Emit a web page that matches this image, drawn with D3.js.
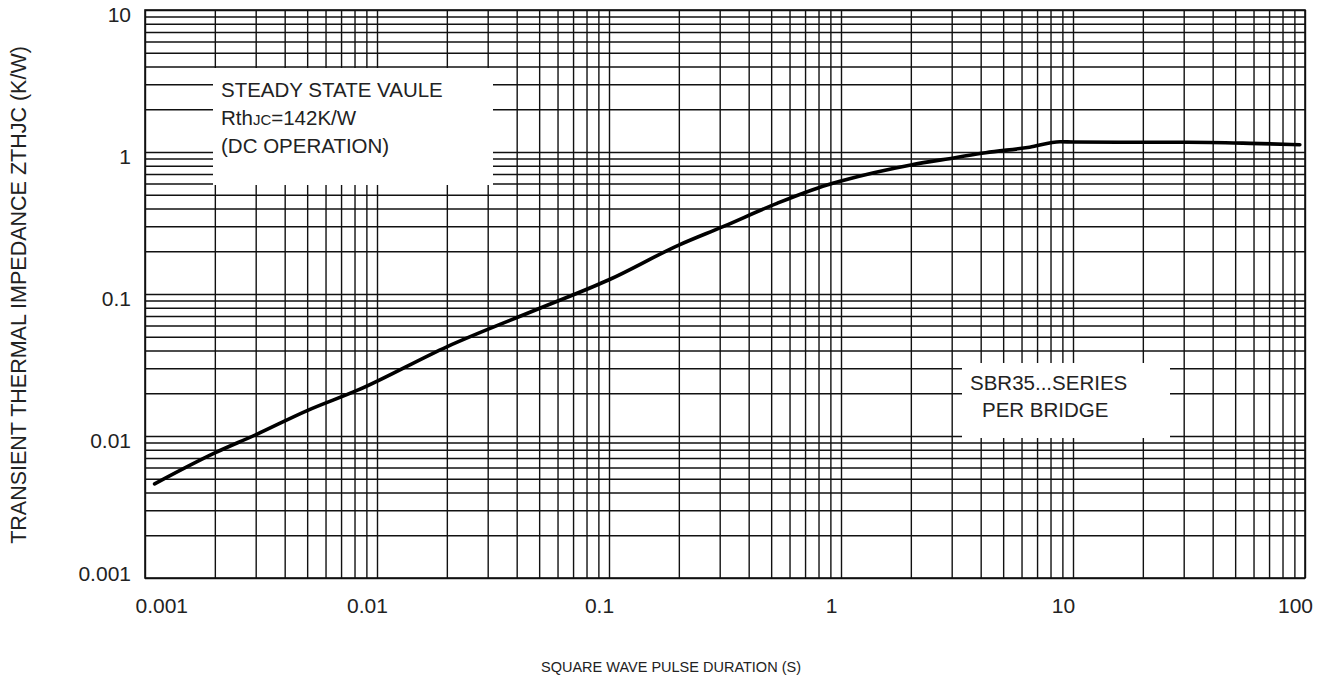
<!DOCTYPE html>
<html>
<head>
<meta charset="utf-8">
<script src="https://cdn.jsdelivr.net/npm/d3@7"></script>
<style>
body { margin: 0; background: #fff; }
svg text { font-family: "Liberation Sans", Arial, sans-serif; fill: #222; }
</style>
</head>
<body>
<svg></svg>
<script>
// curve (pulse duration in s, Zthjc in K/W)
const pulseTimes = [0.0011, 0.002, 0.003, 0.005, 0.0083, 0.02, 0.05, 0.1, 0.2, 0.31, 0.53, 0.87, 1, 2, 3.1, 4.2, 6.5, 8.8, 10, 20, 31, 58, 95];
const impedance  = [0.0046, 0.0076, 0.0102, 0.0151, 0.0211, 0.0425, 0.079, 0.126, 0.221, 0.298, 0.435, 0.586, 0.625, 0.81, 0.912, 0.989, 1.08, 1.18, 1.176, 1.17, 1.17, 1.151, 1.126];

const xTickValues = [0.001, 0.01, 0.1, 1, 10, 100];
const xTickLabels = ["0.001", "0.01", "0.1", "1", "10", "100"];
const yTickValues = [0.001, 0.01, 0.1, 1, 10];
const yTickLabels = ["0.001", "0.01", "0.1", "1", "10"];

const steadyNote = ["STEADY STATE VAULE", "(DC OPERATION)"];
const seriesNote = ["SBR35...SERIES", "PER BRIDGE"];

const width = 1334, height = 690;
const plotLeft = 145, plotRight = 1305, plotTop = 10, plotBottom = 578;

const svg = d3.select("svg")
    .attr("width", width)
    .attr("height", height);

svg.append("rect")
    .attr("width", width)
    .attr("height", height)
    .attr("fill", "#fff");

const x = d3.scaleLog().domain([0.001, 100]).range([plotLeft, plotRight]);
const y = d3.scaleLog().domain([0.001, 10]).range([plotBottom, plotTop]);

// grid, every 1..9 of each decade
const xGrid = svg.append("g")
    .attr("transform", `translate(0,${plotBottom})`)
    .call(d3.axisBottom(x).tickValues(x.ticks()).tickSize(-(plotBottom - plotTop)).tickFormat(""));
const yGrid = svg.append("g")
    .attr("transform", `translate(${plotLeft},0)`)
    .call(d3.axisLeft(y).tickValues(y.ticks()).tickSize(-(plotRight - plotLeft)).tickFormat(""));

for (let g of [xGrid, yGrid]) {
    g.select(".domain").remove();
    g.selectAll("line")
        .attr("stroke", "#111")
        .attr("stroke-width", 1.4);
}

svg.append("rect")
    .attr("x", plotLeft)
    .attr("y", plotTop)
    .attr("width", plotRight - plotLeft)
    .attr("height", plotBottom - plotTop)
    .attr("fill", "none")
    .attr("stroke", "#111")
    .attr("stroke-width", 1.6);

// tick labels
const xAxis = svg.append("g")
    .attr("transform", `translate(0,${plotBottom})`)
    .call(d3.axisBottom(x).tickValues(xTickValues).tickSize(0).tickPadding(20)
        .tickFormat((d, i) => xTickLabels[i]));
xAxis.select(".domain").remove();
xAxis.selectAll("text")
    .attr("font-size", 21)
    .attr("dx", -10)
    .attr("text-anchor", (d, i) => i == 0 ? "start" : "middle")
    .attr("fill", "#222");

const yAxis = svg.append("g")
    .attr("transform", `translate(${plotLeft},0)`)
    .call(d3.axisLeft(y).tickValues(yTickValues).tickSize(0).tickPadding(14)
        .tickFormat((d, i) => yTickLabels[i]));
yAxis.select(".domain").remove();
yAxis.selectAll("text")
    .attr("font-size", 21)
    .attr("dy", (d, i) => i == 0 ? "0.1em" : "0.55em")
    .attr("fill", "#222");

// white note boxes punched into the grid
svg.append("rect")
    .attr("x", 213).attr("y", 68)
    .attr("width", 280).attr("height", 117)
    .attr("fill", "#fff");
svg.append("rect")
    .attr("x", 962).attr("y", 363)
    .attr("width", 208).attr("height", 75)
    .attr("fill", "#fff");

svg.append("text")
    .attr("x", 221).attr("y", 97)
    .attr("font-size", 20.5)
    .text(steadyNote[0]);
let rth = svg.append("text")
    .attr("x", 221).attr("y", 125)
    .attr("font-size", 20.5);
rth.append("tspan").text("Rth");
rth.append("tspan").attr("font-size", 15).text("JC");
rth.append("tspan").text("=142K/W");
svg.append("text")
    .attr("x", 221).attr("y", 153)
    .attr("font-size", 20.5)
    .text(steadyNote[1]);

svg.append("text")
    .attr("x", 970).attr("y", 390)
    .attr("font-size", 20.5)
    .text(seriesNote[0]);
svg.append("text")
    .attr("x", 982).attr("y", 417)
    .attr("font-size", 20.5)
    .text(seriesNote[1]);

// curve
const points = pulseTimes.map((t, i) => [t, impedance[i]]);
const line = d3.line()
    .x(d => x(d[0]))
    .y(d => y(d[1]))
    .curve(d3.curveMonotoneX);

svg.append("path")
    .attr("d", line(points))
    .attr("fill", "none")
    .attr("stroke", "#000")
    .attr("stroke-width", 3.6)
    .attr("stroke-linejoin", "round")
    .attr("stroke-linecap", "round");

// axis titles
svg.append("text")
    .attr("transform", "translate(26,295) rotate(-90)")
    .attr("text-anchor", "middle")
    .attr("font-size", 21.5)
    .text("TRANSIENT THERMAL IMPEDANCE ZTHJC (K/W)");

svg.append("text")
    .attr("x", 671).attr("y", 672)
    .attr("text-anchor", "middle")
    .attr("font-size", 14.5)
    .text("SQUARE WAVE PULSE DURATION (S)");
</script>
</body>
</html>
